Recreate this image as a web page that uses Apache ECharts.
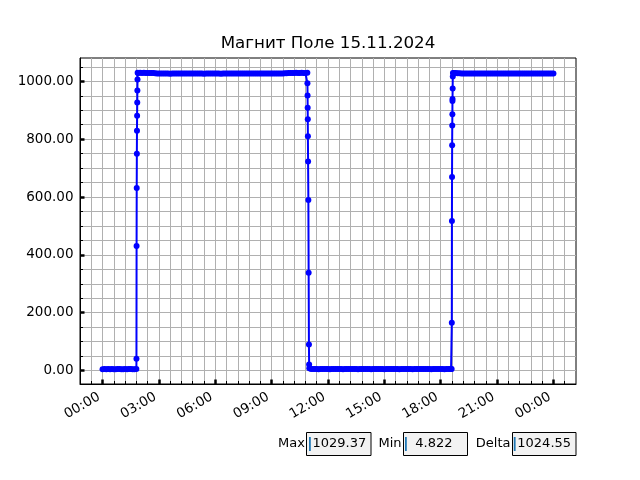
<!DOCTYPE html>
<html>
<head>
<meta charset="utf-8">
<script src="https://cdn.jsdelivr.net/npm/echarts@6/dist/echarts.min.js"></script>
<style>html,body{margin:0;padding:0;background:#fff;}#c{width:640px;height:480px;}</style>
</head>
<body>
<div id="c"></div>
<script>
// ---------- DATA ----------
const chartTitle = 'Магнит Поле 15.11.2024';
const sampleStepH = 0.1; // regular sampling (hours) inside the plateaus

const lowAStart = 0.0;
const lowAValues = [5.0, 5.1, 4.9, 5.2, 5.0, 5.1, 4.9, 5.0, 5.2, 5.1, 5.0, 4.9, 5.1, 5.0, 5.2, 5.1, 5.0, 4.822, 5.1];

const rise1Points = [[1.805, 41], [1.812, 431], [1.819, 631], [1.826, 750], [1.833, 829], [1.84, 881], [1.847, 927], [1.854, 968], [1.861, 1006], [1.868, 1029.2]];

const highAStart = 1.9;
const highAValues = [
  1029.1, 1029.37, 1028.9, 1029.2, 1029.0, 1028.8, 1029.1, 1028.7, 1028.5, 1027.9,
  1026.8, 1027.1, 1026.6, 1026.9, 1027.2, 1026.7, 1027.0, 1026.5, 1026.9, 1027.3,
  1026.8, 1027.0, 1026.6, 1027.1, 1026.9, 1027.4, 1026.7, 1027.0, 1026.8, 1027.2,
  1026.9, 1026.6, 1027.1, 1026.8, 1027.0, 1026.5, 1026.9, 1027.2, 1026.7, 1027.0,
  1026.6, 1026.9, 1027.1, 1026.8, 1026.5, 1026.9, 1027.0, 1026.7, 1027.1, 1026.8,
  1027.0, 1026.6, 1026.9, 1027.2, 1026.8, 1027.0, 1026.7, 1026.9, 1027.1, 1026.8,
  1026.9, 1027.2, 1026.8, 1027.0, 1026.6, 1026.9, 1027.1, 1026.8, 1027.0, 1026.9,
  1027.1, 1026.8, 1027.0, 1026.9, 1027.2, 1026.8, 1027.0, 1027.3, 1027.5, 1027.8,
  1028.4, 1028.9, 1029.1, 1028.8, 1029.2, 1029.0, 1028.9, 1029.3, 1029.1, 1028.9, 1029.2
];

const fallPoints = [[10.905, 993], [10.912, 951], [10.918, 909], [10.924, 869], [10.93, 810], [10.94, 723], [10.955, 590], [10.97, 338], [10.985, 90], [10.995, 21], [11.005, 8]];

const lowBStart = 11.1;
const lowBValues = [
  5.3, 5.1, 5.4, 5.2, 5.0, 5.3, 5.5, 5.1, 5.2, 5.4,
  5.0, 5.3, 5.2, 5.6, 5.1, 5.3, 5.2, 5.0, 5.4, 5.2,
  5.3, 5.5, 5.1, 5.2, 5.4, 5.0, 5.3, 5.2, 5.1, 5.4,
  5.2, 5.3, 5.0, 5.5, 5.2, 5.1, 5.3, 5.4, 5.2, 5.0,
  5.3, 5.2, 5.4, 5.1, 5.3, 5.2, 5.5, 5.0, 5.2, 5.3,
  5.1, 5.4, 5.2, 5.3, 5.0, 5.2, 5.4, 5.1, 5.3, 5.2,
  5.5, 5.1, 5.2, 5.3, 5.0, 5.4, 5.2, 5.3, 5.1, 5.2,
  5.4, 5.0, 5.3, 5.2, 5.1
];

const rise2Points = [[18.55, 5.2], [18.58, 5.1], [18.59, 165], [18.596, 517], [18.602, 669], [18.608, 779], [18.614, 847], [18.62, 886], [18.624, 932], [18.628, 939], [18.635, 975], [18.642, 1017], [18.65, 1029.1]];

const highBStart = 18.7;
const highBValues = [
  1029.0, 1028.7, 1028.2, 1027.6, 1027.3, 1027.0, 1026.9, 1027.2, 1026.8, 1027.0,
  1027.1, 1026.8, 1027.0, 1026.9, 1027.2, 1026.8, 1027.0, 1027.1, 1026.9, 1027.0,
  1026.8, 1027.1, 1026.9, 1027.0, 1027.2, 1026.8, 1027.0, 1026.9, 1027.1, 1026.8,
  1027.0, 1027.2, 1026.9, 1027.0, 1026.8, 1027.1, 1026.9, 1027.0, 1027.2, 1026.8,
  1027.0, 1026.9, 1027.1, 1026.8, 1027.0, 1027.2, 1026.9, 1027.0, 1026.8, 1027.1,
  1026.9, 1027.0, 1027.1, 1026.9
];

const xTickHours = [0, 3, 6, 9, 12, 15, 18, 21, 24];
const xTickLabels = ['00:00', '03:00', '06:00', '09:00', '12:00', '15:00', '18:00', '21:00', '00:00'];
const yTickValues = [0, 200, 400, 600, 800, 1000];
const yTickLabels = ['0.00', '200.00', '400.00', '600.00', '800.00', '1000.00'];

const statMax = '1029.37';
const statMin = '4.822';
const statDelta = '1024.55';

// ---------- BUILD ----------
function addSegment(arr, start, values) {
  values.forEach((v, i) => arr.push([Math.round((start + i * sampleStepH) * 1000) / 1000, v]));
}
const seriesData = [];
addSegment(seriesData, lowAStart, lowAValues);
rise1Points.forEach(p => seriesData.push(p));
addSegment(seriesData, highAStart, highAValues);
fallPoints.forEach(p => seriesData.push(p));
addSegment(seriesData, lowBStart, lowBValues);
rise2Points.forEach(p => seriesData.push(p));
addSegment(seriesData, highBStart, highBValues);

const xMin = -1.2, xMax = 25.2;
const yMin = -46.4, yMax = 1080.6;
const xMinor = [];
for (let k = -1; k <= 41; k++) xMinor.push(Math.round(k * 0.6 * 100) / 100);
const yMinor = [];
for (let k = 0; k <= 21; k++) yMinor.push(k * 50);

const FONT = 'DejaVu Sans';
function xLabel(v) {
  for (let i = 0; i < xTickHours.length; i++) if (Math.abs(xTickHours[i] - v) < 1e-6) return xTickLabels[i];
  return '';
}
function yLabel(v) {
  for (let i = 0; i < yTickValues.length; i++) if (Math.abs(yTickValues[i] - v) < 1e-6) return yTickLabels[i];
  return '';
}

const chart = echarts.init(document.getElementById('c'), null, {renderer: 'canvas'});

function boxGroup(label, labelRight, boxX, boxW, cursorX, textX, text) {
  return [
    {type: 'text', x: labelRight, y: 444, style: {text: label, font: '13px "DejaVu Sans"', fill: '#000', align: 'right', verticalAlign: 'middle'}},
    {type: 'rect', shape: {x: boxX, y: 432.5, width: boxW, height: 23}, style: {fill: '#f2f2f2', stroke: '#000', lineWidth: 1}},
    {type: 'rect', shape: {x: cursorX, y: 437, width: 1.8, height: 14}, style: {fill: '#1f77b4'}},
    {type: 'text', x: textX, y: 444, style: {text: text, font: '13px "DejaVu Sans"', fill: '#000', align: 'left', verticalAlign: 'middle'}}
  ];
}

const option = {
  animation: false,
  backgroundColor: '#fff',
  textStyle: {fontFamily: FONT},
  grid: {left: 80, right: 64, top: 58, bottom: 96, show: true, borderColor: '#000', borderWidth: 1, backgroundColor: '#fff', containLabel: false},
  xAxis: [
    {
      type: 'value', min: xMin, max: xMax, position: 'bottom',
      axisLine: {show: true, onZero: false, lineStyle: {color: '#000', width: 1}},
      axisTick: {show: true, inside: true, length: 3, lineStyle: {color: '#000', width: 1}, customValues: xMinor},
      splitLine: {show: true, lineStyle: {color: '#b0b0b0', width: 1}},
      axisLabel: {customValues: xTickHours, formatter: xLabel, rotate: 30, align: 'right', verticalAlign: 'middle',
        padding: [0, 4, 0, 0], fontSize: 13.5, fontFamily: FONT, color: '#000', margin: 10, hideOverlap: false}
    },
    {
      type: 'value', min: xMin, max: xMax, position: 'bottom',
      axisLine: {show: false, onZero: false},
      axisTick: {show: true, inside: true, length: 4.5, lineStyle: {color: '#000', width: 2.5}, customValues: xTickHours},
      splitLine: {show: false},
      axisLabel: {show: false}
    }
  ],
  yAxis: [
    {
      type: 'value', min: yMin, max: yMax, position: 'left',
      axisLine: {show: true, onZero: false, lineStyle: {color: '#000', width: 1}},
      axisTick: {show: true, inside: true, length: 3, lineStyle: {color: '#000', width: 1}, customValues: yMinor},
      splitLine: {show: true, lineStyle: {color: '#b0b0b0', width: 1}},
      axisLabel: {customValues: yTickValues, formatter: yLabel, fontSize: 13.5, fontFamily: FONT, color: '#000', margin: 6.5}
    },
    {
      type: 'value', min: yMin, max: yMax, position: 'left',
      axisLine: {show: false, onZero: false},
      axisTick: {show: true, inside: true, length: 4.5, lineStyle: {color: '#000', width: 2.5}, customValues: yTickValues},
      splitLine: {show: false},
      axisLabel: {show: false}
    }
  ],
  series: [{
    type: 'line', xAxisIndex: 0, yAxisIndex: 0,
    data: seriesData,
    symbol: 'circle', symbolSize: 6, showSymbol: true,
    lineStyle: {color: '#0000ff', width: 2},
    itemStyle: {color: '#0000ff', borderWidth: 0},
    emphasis: {disabled: true},
    clip: true
  }],
  graphic: [
    {type: 'text', x: 328, y: 44, style: {text: chartTitle, font: '16.7px "DejaVu Sans"', fill: '#000', align: 'center', verticalAlign: 'middle'}}
  ].concat(
    boxGroup('Max', 305, 306.5, 64.5, 309, 312.5, statMax),
    boxGroup('Min', 401.5, 403.5, 64, 405, 415.3, statMin),
    boxGroup('Delta', 510.5, 512.5, 63.5, 513.8, 517.3, statDelta)
  )
};
chart.setOption(option);
</script>
</body>
</html>
